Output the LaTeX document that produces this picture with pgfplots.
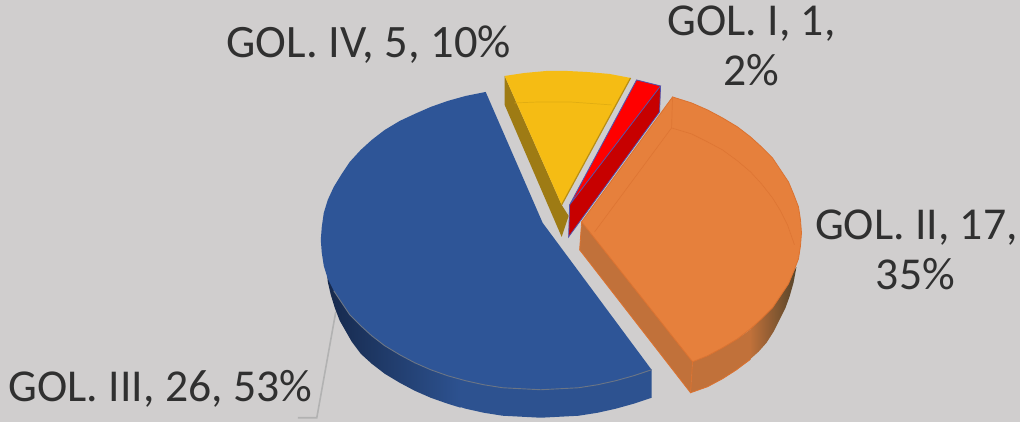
\documentclass[border=0pt]{standalone}
\usepackage{fontspec}
\setmainfont{Carlito}
\usepackage{pgfplots}
\pgfplotsset{compat=1.18}
\definecolor{bg}{HTML}{D0CECE}
\definecolor{txt}{HTML}{303030}
\definecolor{bluetop}{HTML}{2E5597}
\definecolor{bluedark}{HTML}{16294C}
\definecolor{blueside}{HTML}{2D5290}
\definecolor{orgtop}{HTML}{E6803C}
\definecolor{orgline}{HTML}{DB7230}
\definecolor{orgside}{HTML}{C1713A}
\definecolor{orgdark}{HTML}{55442A}
\definecolor{yeltop}{HTML}{F5BC14}
\definecolor{yelside}{HTML}{9E7B14}
\begin{document}
\begin{tikzpicture}
\begin{axis}[
  scale only axis, width=1021pt, height=422pt,
  xmin=0, xmax=1021, ymin=0, ymax=422, y dir=reverse,
  hide axis, clip=false, enlargelimits=false]
% background
\addplot[fill=bg, draw=none] coordinates {(0,0)(1021,0)(1021,422)(0,422)} --cycle;
% leader line
\addplot[draw=gray!60!white, line width=1.6pt] coordinates {(336,312)(317,418)(298,418)};
% blue side
\addplot[fill=blueside, draw=none]
 coordinates {(460,300)(460,407)(466,409)(484,413)(503,416)(522,417)(541,418)(560,417)(579,416)(598,413)(616,409)(634,404)(652,398)(652,370)} --cycle;
\addplot[shade, left color=bluedark, right color=blueside, draw=none]
 coordinates {(327,270)(328,282)(331,295)(335,308)(340,321)(352,342)(361,354)(372,364)(385,374)(400,383)(415,391)(431,398)(448,404)(461,408)(461,340)} --cycle;
% blue top
\addplot[fill=bluetop, draw=none]
 coordinates {(486,92)(466,96)(448,101)(431,107)(415,114)(400,121)(385,130)(372,140)(361,150)(350,162)(342,174)(334,187)(328,200)(324,213)(322,227)(321,240)(322,253)(324,266)(328,279)(334,291)(342,303)(350,315)(361,326)(372,336)(385,346)(400,355)(415,363)(431,370)(448,376)(466,381)(484,385)(503,388)(522,389)(541,390)(560,389)(579,388)(598,385)(616,381)(634,376)(652,370)(543,223)} --cycle;
\addplot[draw=gray!75!bluetop, line width=0.9pt]
 coordinates {(334,291)(342,303)(350,315)(361,326)(372,336)(385,346)(400,355)(415,363)(431,370)(448,376)(466,381)(484,385)(503,388)(522,389)(541,390)(560,389)(579,388)(598,385)(616,381)(634,376)(652,370)};
% yellow
\addplot[fill=yelside, draw=none] coordinates {(505,76)(505,105)(562,237)(569,216)(562,205)} --cycle;
\addplot[fill=yeltop, draw=none] coordinates {(505,76)(525,73)(547,71)(567,71)(587,72)(610,74)(631,78)(562,205)} --cycle;
\addplot[draw=yelside!70!yeltop, line width=1.2pt] coordinates {(631,78)(562,205)};
\addplot[draw=yeltop!92!black, line width=0.7pt] coordinates {(515,103)(540,102)(570,102)(612,105)};
% red
\addplot[fill=red!78!black, draw=none] coordinates {(661,86)(660,112)(569,237)(570,205)} --cycle;
\addplot[fill=red, draw=none] coordinates {(637,80)(661,86)(570,205)} --cycle;
\addplot[draw=blue!35!gray, line width=0.8pt] coordinates {(570,205)(637,80)(661,86)(570,205)(569,237)(660,112)(661,86)};
% orange side
\addplot[shade, left color=orgside, middle color=orgside!80!orgdark, right color=orgdark, draw=none]
 coordinates {(750,360)(759,352)(767,343)(774,332)(780,320)(786,308)(790,297)(794,283)(797,267)(794,272)(781,296)(762,319)(751,329)} --cycle;
\addplot[fill=orgside, draw=none]
 coordinates {(693,362)(691,393)(708,387)(723,379)(737,370)(751,360)(752,329)(738,339)(723,348)(708,356)} --cycle;
\addplot[fill=orgside, draw=none] coordinates {(582,222)(693,362)(691,393)(580,250)} --cycle;
\addplot[draw=orgline, line width=0.8pt] coordinates {(693,362)(691,393)(708,387)(723,379)(737,370)(750,360)};
\addplot[draw=orgline, line width=0.8pt] coordinates {(582,222)(580,250)(691,393)};
% orange top
\addplot[fill=orgtop, draw=orgline, line width=0.8pt]
 coordinates {(582,222)(673,97)(692,103)(708,110)(723,118)(738,127)(751,137)(762,147)(773,158)(781,170)(789,182)(794,194)(799,207)(801,220)(802,233)(801,246)(799,259)(794,272)(789,284)(781,296)(773,308)(762,319)(751,329)(738,339)(723,348)(708,356)(693,362)} --cycle;
\addplot[draw=orgline!70!orgtop, line width=0.7pt]
 coordinates {(673,97)(672,128)(692,134)(708,142)(723,150)(738,161)(751,172)(762,184)(773,198)(781,211)(788,225)(795,245)};
\addplot[draw=orgline!70!orgtop, line width=0.7pt] coordinates {(672,128)(595,232)};
\node[anchor=base, text=txt, font=\fontsize{45.7}{54}\selectfont] at (axis cs:752,36) {GOL. I, 1,};
\node[anchor=base, text=txt, font=\fontsize{45.7}{54}\selectfont] at (axis cs:752,86) {2\%};
\node[anchor=base, text=txt, font=\fontsize{46.5}{54}\selectfont] at (axis cs:369,58) {GOL. IV, 5, 10\%};
\node[anchor=base, text=txt, font=\fontsize{45.7}{54}\selectfont] at (axis cs:917,240) {GOL. II, 17,};
\node[anchor=base, text=txt, font=\fontsize{45.7}{54}\selectfont] at (axis cs:916,290) {35\%};
\node[anchor=base, text=txt, font=\fontsize{45.7}{54}\selectfont] at (axis cs:160.5,402) {GOL. III, 26, 53\%};
\end{axis}
\end{tikzpicture}
\end{document}
